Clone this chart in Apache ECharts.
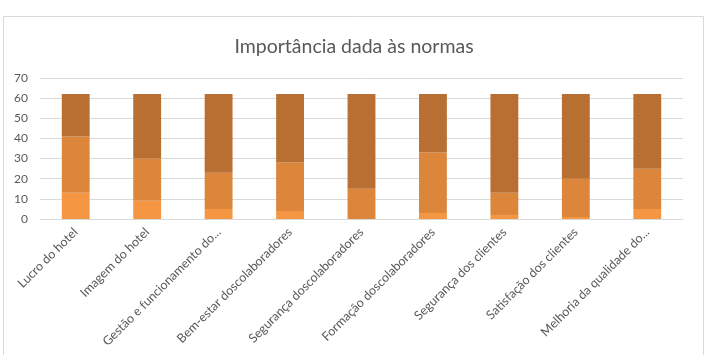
<!DOCTYPE html>
<html lang="pt">

<head>
    <meta charset="UTF-8">
    <title>Importância dada às normas</title>
    <style>
        html, body { margin: 0; padding: 0; background: #fff; }
    </style>
</head>

<body>
    <div id="main" style="width: 708px; height: 355px"></div>
    <script src="https://cdn.jsdelivr.net/npm/echarts@6/dist/echarts.min.js"></script>
    <script type="text/javascript">
        var categories = ['Lucro do hotel', 'Imagem do hotel', 'Gestão e funcionamento do...',
            'Bem-estar doscolaboradores', 'Segurança doscolaboradores', 'Formação doscolaboradores',
            'Segurança dos clientes', 'Satisfação dos clientes', 'Melhoria da qualidade do...'];
        // tres niveis empilhados (total 62 por categoria)
        var nivel1 = [13, 9, 5, 4, 0, 3, 2, 1, 5];
        var nivel2 = [28, 21, 18, 24, 15, 30, 11, 19, 20];
        var nivel3 = [21, 32, 39, 34, 47, 29, 49, 42, 37];

        var myChart = echarts.init(document.getElementById('main'));
        var txt = '#595959';

        function serie(nome, dados, cor) {
            return {
                name: nome,
                type: 'bar',
                stack: 'total',
                barWidth: '39%',
                data: dados,
                itemStyle: { color: cor }
            };
        }

        var option = {
            animation: false,
            textStyle: { fontFamily: 'Lato' },
            title: {
                text: 'Importância dada às normas',
                left: 'center',
                top: 32,
                textStyle: { fontFamily: 'Lato', fontSize: 19.5, fontWeight: 'normal', color: txt }
            },
            graphic: [{
                type: 'rect',
                shape: { x: 3.5, y: 16.5, width: 700, height: 360 },
                style: { fill: 'none', stroke: '#d9d9d9', lineWidth: 1 },
                silent: true
            }],
            grid: { left: 40, right: 25, top: 78, bottom: 136 },
            xAxis: {
                type: 'category',
                data: categories,
                axisLine: { lineStyle: { color: '#d9d9d9' } },
                axisTick: { show: false },
                axisLabel: { rotate: 45, interval: 0, color: txt, fontSize: 12.5, margin: 11 }
            },
            yAxis: {
                type: 'value',
                min: 0,
                max: 70,
                interval: 10,
                axisLine: { show: false },
                axisTick: { show: false },
                axisLabel: { color: txt, fontSize: 12, margin: 12 },
                splitLine: { lineStyle: { color: '#d9d9d9' } }
            },
            series: [
                serie('1', nivel1, '#f59642'),
                serie('2', nivel2, '#db863b'),
                serie('3', nivel3, '#b86f31')
            ]
        };
        myChart.setOption(option);
    </script>

</body>

</html>
